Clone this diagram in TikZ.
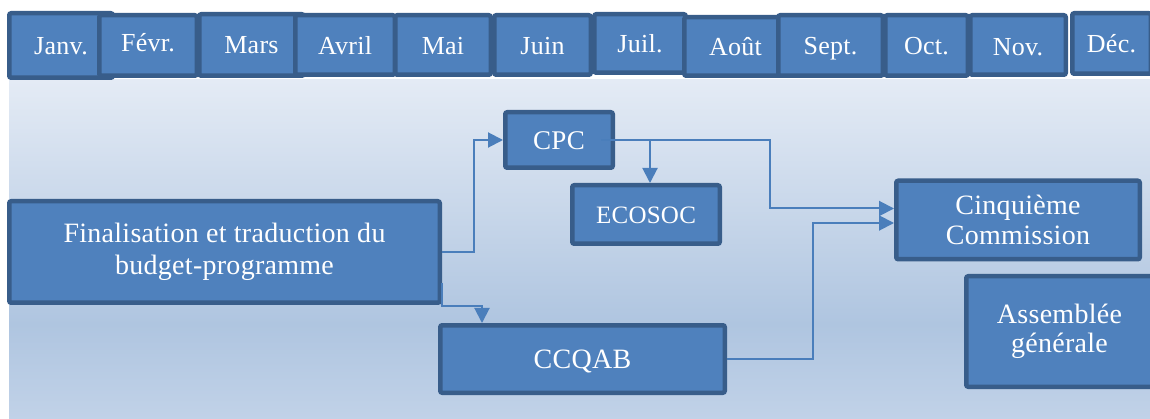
\documentclass[tikz,border=0pt]{standalone}
\usepackage{fontspec}
\setmainfont{Liberation Serif}[LetterSpace=1]
\usetikzlibrary{arrows.meta,calc}
\definecolor{boxfill}{HTML}{4F81BD}
\definecolor{boxline}{HTML}{385D8A}
\definecolor{conncol}{HTML}{4A7EBB}
\definecolor{bgtop}{HTML}{E4EBF5}
\definecolor{bgmid}{HTML}{AFC5E0}
\definecolor{bgbot}{HTML}{C1D2E8}
\pgfdeclareverticalshading{panelshade}{100bp}{color(0bp)=(bgbot); color(25bp)=(bgbot); color(39bp)=(bgmid); color(75bp)=(bgtop); color(100bp)=(bgtop)}
\tikzset{
  box/.style={draw=boxline, fill=boxfill, line width=4.5pt, rounded corners=2pt,
    text=white, inner sep=0pt, align=center, font=\fontsize{28}{31}\selectfont},
  month/.style={box, text depth=0pt, font=\fontsize{26}{31}\selectfont},
  single/.style={text height=19pt, text depth=0pt},
  conn/.style={draw=conncol, line width=2pt, -{Triangle[length=15pt,width=15pt]}},
  wire/.style={draw=conncol, line width=2pt}
}
\begin{document}
\begin{tikzpicture}[x=1pt,y=-1pt]
\useasboundingbox (0,0) rectangle (1150,419);
\clip (0,0) rectangle (1150,419);
\fill[white] (0,0) rectangle (1150,419);
\shade[shading=panelshade] (9,80) rectangle (1150,419);
% months
\node[month, minimum width=103.5pt, minimum height=64.5pt, text height=19pt] (jan) at (61,45.5) {Janv.};
\node[month, minimum width=97.5pt, minimum height=60.5pt, text height=13pt] (feb) at (148,45.5) {Févr.};
\node[month, minimum width=104.5pt, minimum height=61.5pt, text height=18pt] (mar) at (251.5,45) {Mars};
\node[month, minimum width=99.5pt, minimum height=59.5pt, text height=20pt] (apr) at (345,45) {Avril};
\node[month, minimum width=95.5pt, minimum height=59.5pt, text height=20pt] (may) at (443,45) {Mai};
\node[month, minimum width=96.5pt, minimum height=59.5pt, text height=20pt] (jun) at (542.5,45) {Juin};
\node[month, minimum width=91.5pt, minimum height=58.5pt, text height=19pt] (jul) at (640,43.5) {Juil.};
\node[month, minimum width=102.5pt, minimum height=58.5pt, text height=19pt] (aug) at (735.5,46.5) {Août};
\node[month, minimum width=104.5pt, minimum height=60.5pt, text height=19pt] (sep) at (830.5,45.5) {Sept.};
\node[month, minimum width=82.5pt, minimum height=60.5pt, text height=19pt] (oct) at (926.5,45.5) {Oct.};
\node[month, minimum width=95.5pt, minimum height=59.5pt, text height=22pt] (nov) at (1018,45) {Nov.};
\node[month, minimum width=78.5pt, minimum height=60.5pt, text height=19pt] (dec) at (1111.5,43.5) {Déc.};
% process boxes
\node[box, minimum width=430.5pt, minimum height=101.5pt, font=\fontsize{28}{32}\selectfont] (fin) at (224.5,252) {Finalisation et traduction du\\budget-programme};
\node[box, single, minimum width=107.5pt, minimum height=55.5pt, font=\fontsize{27}{31}\selectfont] (cpc) at (559,140) {CPC};
\node[box, single, minimum width=147.5pt, minimum height=58.5pt, font=\fontsize{25}{31}\selectfont] (ecosoc) at (646,214.5) {ECOSOC};
\node[box, single, minimum width=284.5pt, minimum height=67.5pt] (ccqab) at (582.5,359) {CCQAB};
\node[box, minimum width=243.5pt, minimum height=78.5pt, font=\fontsize{28}{30}\selectfont] (cinq) at (1018,220) {Cinquième\\Commission};
\node[box, minimum width=186.5pt, minimum height=110.5pt, font=\fontsize{28}{29.5}\selectfont] (ag) at (1059.5,331.5) {Assemblée\\générale};
% connectors
\draw[conn] (fin.east) -- ++(32,0) |- (cpc.west);
\coordinate (finout) at ($(fin.south east)+(0,-22)$);
\coordinate (ccqin) at ($(ccqab.north west)+(44,0)$);
\draw[conn] (finout) -- ($(fin.south east)+(0,1)$) -| (ccqin);
\coordinate (cpcout) at ($(cpc.east)+(-14,0)$);
\draw[conn] (cpcout) -- ++(169,0) |- ($(cinq.west)+(0,-11.5)$);
\coordinate (ecoin) at ($(ecosoc.north)+(4,0)$);
\draw[conn] (ecoin |- cpc.east) -- (ecoin);
\draw[conn] (ccqab.east) -- ++(86,0) |- ($(cinq.west)+(0,3)$);
\end{tikzpicture}
\end{document}
